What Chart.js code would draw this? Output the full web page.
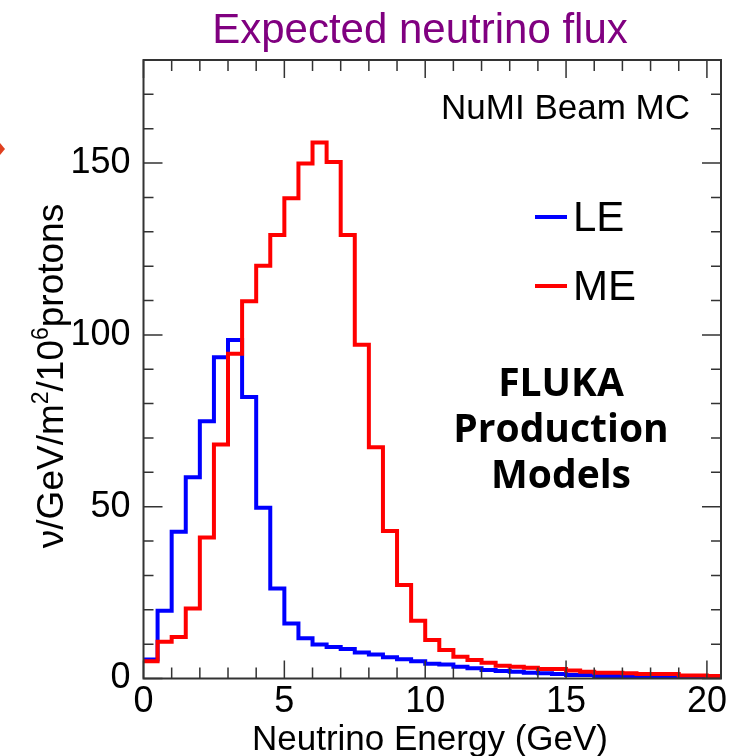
<!DOCTYPE html>
<html>
<head>
<meta charset="utf-8">
<script src="https://cdn.jsdelivr.net/npm/chart.js@4.4.1/dist/chart.umd.min.js"></script>
<style>
  html, body { margin: 0; padding: 0; background: #fff; }
  #wrap { width: 739px; height: 756px; }
</style>
</head>
<body>
<div id="wrap"><canvas id="flux" width="739" height="756"></canvas></div>
<script>
// neutrino energy bin edges, GeV (0.5 GeV bins)
const binEdges = [
  0, 0.5, 1, 1.5, 2, 2.5, 3, 3.5, 4, 4.5,
  5, 5.5, 6, 6.5, 7, 7.5, 8, 8.5, 9, 9.5,
  10, 10.5, 11, 11.5, 12, 12.5, 13, 13.5, 14, 14.5,
  15, 15.5, 16, 16.5, 17, 17.5, 18, 18.5, 19, 19.5,
  20, 20.5
];

// flux per bin, nu/GeV/m^2/10^6 protons
const fluxLE = [
  5.5, 19.7, 42.7, 58.6, 74.9, 93.5, 98.5, 81.9, 49.7, 26.2,
  16.0, 11.7, 9.9, 9.2, 8.6, 7.6, 7.0, 6.2, 5.6, 5.0,
  4.3, 4.1, 3.4, 3.0, 2.5, 2.2, 2.0, 1.7, 1.5, 1.3,
  1.0, 1.0, 0.7, 0.7, 0.7, 0.7, 0.5, 0.5, 0.4, 0.35,
  0.3
];
const fluxME = [
  5.0, 10.7, 12.1, 20.4, 41.0, 68.1, 94.5, 109.8, 120.1, 129.1,
  139.8, 149.9, 156.0, 150.3, 129.1, 97.1, 67.3, 42.9, 27.2, 16.8,
  11.2, 8.3, 6.3, 5.4, 4.6, 3.7, 3.4, 3.1, 2.8, 2.8,
  2.3, 2.0, 1.7, 1.7, 1.5, 1.3, 1.3, 1.3, 0.9, 0.9,
  0.7
];

const xTicks = [0, 5, 10, 15, 20];
const yTicks = [0, 50, 100, 150];

const SANS = '"Liberation Sans", Arial, Helvetica, sans-serif';

// one point per lower edge, plus the upper edge of the last bin
function histPoints(vals) {
  const pts = vals.map((v, i) => ({ x: binEdges[i], y: v }));
  pts.push({ x: binEdges[vals.length], y: vals[vals.length - 1] });
  return pts;
}

// ROOT-like frame: box, inward ticks on all four sides, labels
const rootFrame = {
  id: 'rootFrame',
  afterDatasetsDraw(chart) {
    const { ctx, chartArea: a, scales: { x, y } } = chart;
    ctx.save();

    ctx.strokeStyle = '#333';
    ctx.lineWidth = 1.5;
    ctx.beginPath();
    for (let e = 0; e <= 20; e++) {
      const px = x.getPixelForValue(e);
      const len = e % 5 === 0 ? 18 : 11;
      ctx.moveTo(px, a.bottom); ctx.lineTo(px, a.bottom - len);
      ctx.moveTo(px, a.top); ctx.lineTo(px, a.top + len);
    }
    for (let v = 0; v <= 180; v += 10) {
      const py = y.getPixelForValue(v);
      const len = v % 50 === 0 ? 19 : 10;
      ctx.moveTo(a.left, py); ctx.lineTo(a.left + len, py);
      ctx.moveTo(a.right, py); ctx.lineTo(a.right - len, py);
    }
    ctx.stroke();

    ctx.lineWidth = 2;
    ctx.strokeRect(a.left, a.top, a.right - a.left, a.bottom - a.top);

    // title
    ctx.fillStyle = '#800080';
    ctx.font = '42px ' + SANS;
    ctx.textAlign = 'center';
    ctx.textBaseline = 'alphabetic';
    ctx.fillText('Expected neutrino flux', 420, 43);

    ctx.fillStyle = '#000';
    ctx.font = '35px ' + SANS;
    ctx.textAlign = 'right';
    ctx.fillText('NuMI Beam MC', 690, 119);

    // legend
    chart.data.datasets.forEach((ds, i) => {
      const ly = 217 + i * 69;
      ctx.strokeStyle = ds.borderColor;
      ctx.lineWidth = 4;
      ctx.beginPath();
      ctx.moveTo(535, ly); ctx.lineTo(567, ly);
      ctx.stroke();
      ctx.fillStyle = '#000';
      ctx.font = '42px ' + SANS;
      ctx.textAlign = 'left';
      ctx.textBaseline = 'middle';
      ctx.fillText(ds.label, 573, ly + 2);
    });

    ctx.font = 'bold 39px "Open Sans", "Noto Sans", sans-serif';
    ctx.textAlign = 'center';
    ctx.textBaseline = 'alphabetic';
    ['FLUKA', 'Production', 'Models'].forEach((t, i) => {
      ctx.fillText(t, 561, 396 + i * 46);
    });

    // x axis title
    ctx.font = '35px ' + SANS;
    ctx.fillText('Neutrino Energy (GeV)', 430, 750);

    // y axis title, rotated, with superscripts
    const parts = [
      ['ν/GeV/m', false], ['2', true], ['/10', false], ['6', true], ['protons', false]
    ];
    const big = '37px ' + SANS, small = '23px ' + SANS;
    let total = 0;
    parts.forEach(([t, sup]) => { ctx.font = sup ? small : big; total += ctx.measureText(t).width; });
    ctx.translate(63, 376);
    ctx.rotate(-Math.PI / 2);
    let cx = -total / 2;
    ctx.textAlign = 'left';
    parts.forEach(([t, sup]) => {
      ctx.font = sup ? small : big;
      ctx.fillText(t, cx, sup ? -15 : 0);
      cx += ctx.measureText(t).width;
    });
    ctx.restore();

    // small red mark at the left edge
    ctx.save();
    ctx.fillStyle = '#e0401f';
    ctx.beginPath();
    ctx.moveTo(0, 143); ctx.lineTo(5, 149); ctx.lineTo(0, 155);
    ctx.closePath();
    ctx.fill();
    ctx.restore();
  }
};

new Chart(document.getElementById('flux'), {
  type: 'line',
  data: {
    datasets: [
      {
        label: 'LE',
        data: histPoints(fluxLE),
        borderColor: '#0000ff',
        order: 1
      },
      {
        label: 'ME',
        data: histPoints(fluxME),
        borderColor: '#ff0000',
        order: 0
      }
    ]
  },
  options: {
    responsive: false,
    animation: false,
    layout: { padding: { left: 0, right: 18, top: 60, bottom: 0 } },
    elements: {
      line: { stepped: true, borderWidth: 4, borderJoinStyle: 'miter', borderCapStyle: 'butt', fill: false },
      point: { radius: 0 }
    },
    plugins: {
      legend: { display: false },
      tooltip: { enabled: false },
      title: { display: false }
    },
    scales: {
      x: {
        type: 'linear',
        min: 0,
        max: 20.5,
        afterFit: (s) => { s.height = 77.5; },
        afterBuildTicks: (s) => { s.ticks = xTicks.map(v => ({ value: v })); },
        grid: { display: false, drawTicks: false },
        border: { display: false },
        ticks: {
          autoSkip: false,
          maxRotation: 0,
          padding: 2,
          color: '#000',
          font: { family: SANS, size: 36 }
        }
      },
      y: {
        min: 0,
        max: 180,
        afterFit: (s) => { s.width = 143.5; },
        afterBuildTicks: (s) => { s.ticks = yTicks.map(v => ({ value: v })); },
        grid: { display: false, drawTicks: false },
        border: { display: false },
        ticks: {
          autoSkip: false,
          padding: 13,
          color: '#000',
          font: { family: SANS, size: 36 }
        }
      }
    }
  },
  plugins: [rootFrame]
});
</script>
</body>
</html>
